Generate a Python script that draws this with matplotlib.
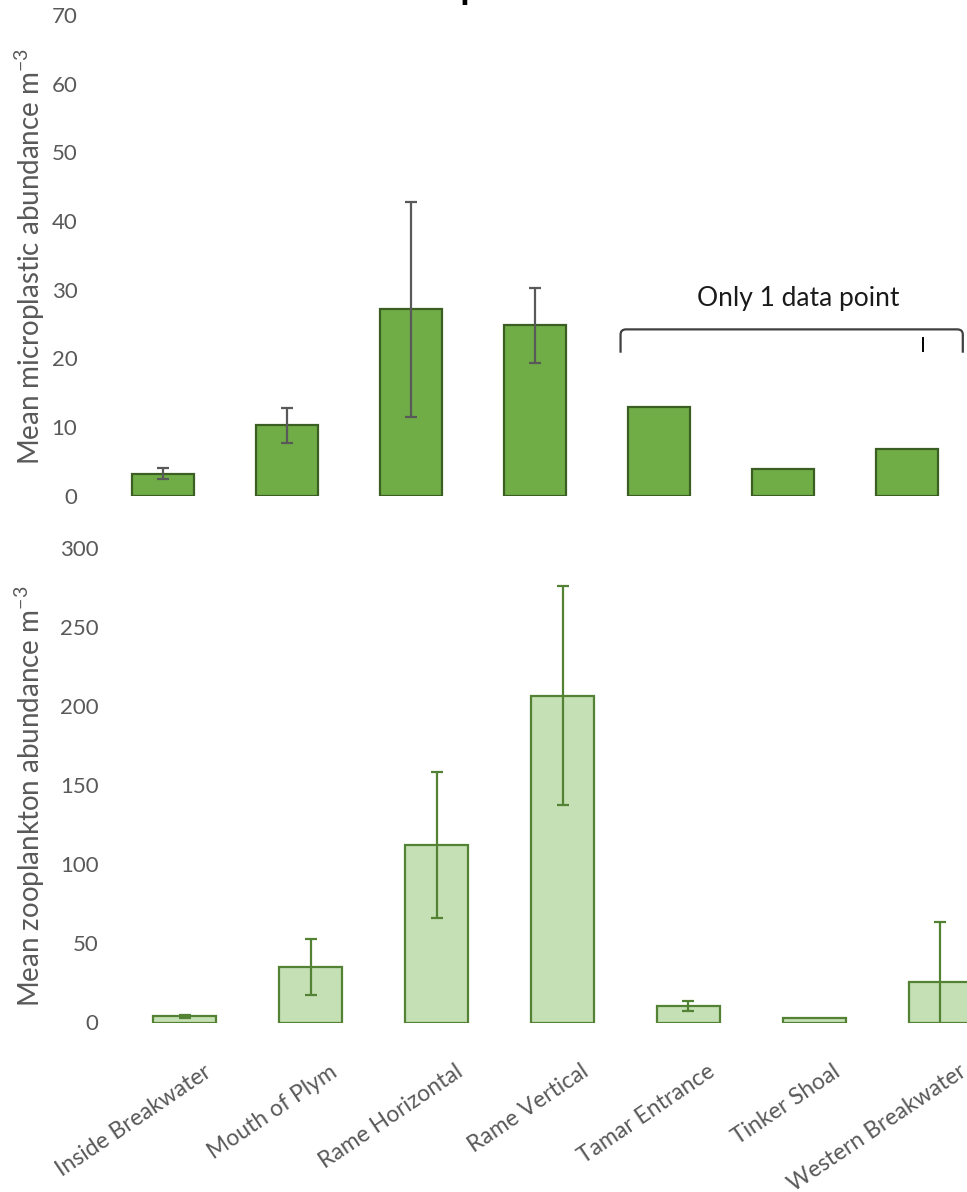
import matplotlib
matplotlib.use("Agg")
import matplotlib.pyplot as plt
import matplotlib.transforms as mtransforms
from matplotlib.path import Path
from matplotlib.patches import PathPatch

nan = float("nan")

# Sampling sites (shared x categories)
sites = ["Inside Breakwater", "Mouth of Plym", "Rame Horizontal", "Rame Vertical",
         "Tamar Entrance", "Tinker Shoal", "Western Breakwater"]

# Mean microplastic abundance (m^-3) and error; single-sample sites have no error bar
microplastic_mean = [3.2, 10.2, 27.1, 24.8, 12.9, 3.8, 6.8]
microplastic_err = [0.75, 2.6, 15.7, 5.5, nan, nan, nan]

# Mean zooplankton abundance (m^-3) and error
zooplankton_mean = [3.9, 34.8, 112.0, 206.5, 10.3, 3.0, 25.8]
zooplankton_err = [0.8, 17.7, 46.0, 69.0, 3.1, nan, 37.8]

micro_ticks = [0, 10, 20, 30, 40, 50, 60, 70]
zoo_ticks = [0, 50, 100, 150, 200, 250, 300]

plt.rcParams["font.family"] = ["Lato", "DejaVu Sans"]
plt.rcParams["mathtext.fontset"] = "custom"
plt.rcParams["mathtext.rm"] = "Lato"
plt.rcParams["mathtext.it"] = "Lato"
plt.rcParams["mathtext.bf"] = "Lato:bold"

TICK_GREY = "#595959"
W, H = 967, 1192
fig = plt.figure(figsize=(W / 100, H / 100), dpi=100)


def px_box(left, top, right, bottom):
    return [left / W, 1 - bottom / H, (right - left) / W, (bottom - top) / H]


ax1 = fig.add_axes(px_box(101, 15, 969, 495.5))
ax2 = fig.add_axes(px_box(122, 547.5, 1003, 1022.5))

x = list(range(len(sites)))

# Top panel: microplastics
ax1.bar(x, microplastic_mean, width=0.5, color="#70AD47", edgecolor="#3B5E23",
        linewidth=1.6, zorder=2)
ax1.errorbar(x, microplastic_mean, yerr=microplastic_err, fmt="none",
             ecolor=TICK_GREY, elinewidth=1.6, capsize=4.5, capthick=1.6, zorder=3)
ax1.set_ylim(0, 70)
ax1.set_yticks(micro_ticks)

# Bottom panel: zooplankton
ax2.bar(x, zooplankton_mean, width=0.5, color="#C5E0B4", edgecolor="#548235",
        linewidth=1.6, zorder=2)
ax2.errorbar(x, zooplankton_mean, yerr=zooplankton_err, fmt="none",
             ecolor="#548235", elinewidth=1.6, capsize=4.5, capthick=1.6, zorder=3)
ax2.set_ylim(0, 300)
ax2.set_yticks(zoo_ticks)

for ax in (ax1, ax2):
    ax.set_xlim(-0.5, len(sites) - 0.5)
    ax.set_xticks(x)
    for s in ax.spines.values():
        s.set_visible(False)
    ax.tick_params(axis="y", length=0, pad=17, labelsize=16, labelcolor=TICK_GREY)
    ax.tick_params(axis="x", length=0)

ax1.set_xticklabels([])
ax2.tick_params(axis="x", pad=34, labelsize=16.5, labelcolor=TICK_GREY)
ax2.set_xticklabels(sites, rotation=34, ha="right", va="center", rotation_mode="anchor")
shift = mtransforms.ScaledTranslation(0.24, 0, fig.dpi_scale_trans)
for lab in ax2.get_xticklabels():
    lab.set_transform(lab.get_transform() + shift)

# Axis titles
fig.text(30 / W, 1 - 257 / H, r"Mean microplastic abundance m$^{\mathregular{-3}}$",
         rotation=90, ha="center", va="center", fontsize=20, color=TICK_GREY)
fig.text(30 / W, 1 - 796 / H, r"Mean zooplankton abundance m$^{\mathregular{-3}}$",
         rotation=90, ha="center", va="center", fontsize=20, color=TICK_GREY)

# Bracket over the single-sample sites
bx0, bx1, by_top, by_bot = 3.69, 6.45, 24.2, 20.8
rx, ry = 0.045, 0.75
verts = [(bx0, by_bot), (bx0, by_top - ry), (bx0, by_top), (bx0 + rx, by_top),
         (bx1 - rx, by_top), (bx1, by_top), (bx1, by_top - ry), (bx1, by_bot)]
codes = [Path.MOVETO, Path.LINETO, Path.CURVE3, Path.CURVE3,
         Path.LINETO, Path.CURVE3, Path.CURVE3, Path.LINETO]
ax1.add_patch(PathPatch(Path(verts, codes), facecolor="none", edgecolor="#404040",
                        linewidth=1.6, clip_on=False, zorder=4))
ax1.plot([6.13, 6.13], [21.1, 23.0], color="black", linewidth=1.4, clip_on=False)
ax1.text(5.12, 28.75, "Only 1 data point", ha="center", va="center",
         fontsize=19, color="#1a1a1a")

# Chart title (sits mostly above the canvas)
fig.text(0.489, 1 + 1 / H, "Microplastics", ha="center", va="baseline",
         fontsize=27, fontweight="bold", color="black")

fig.savefig("out.png", dpi=100)
